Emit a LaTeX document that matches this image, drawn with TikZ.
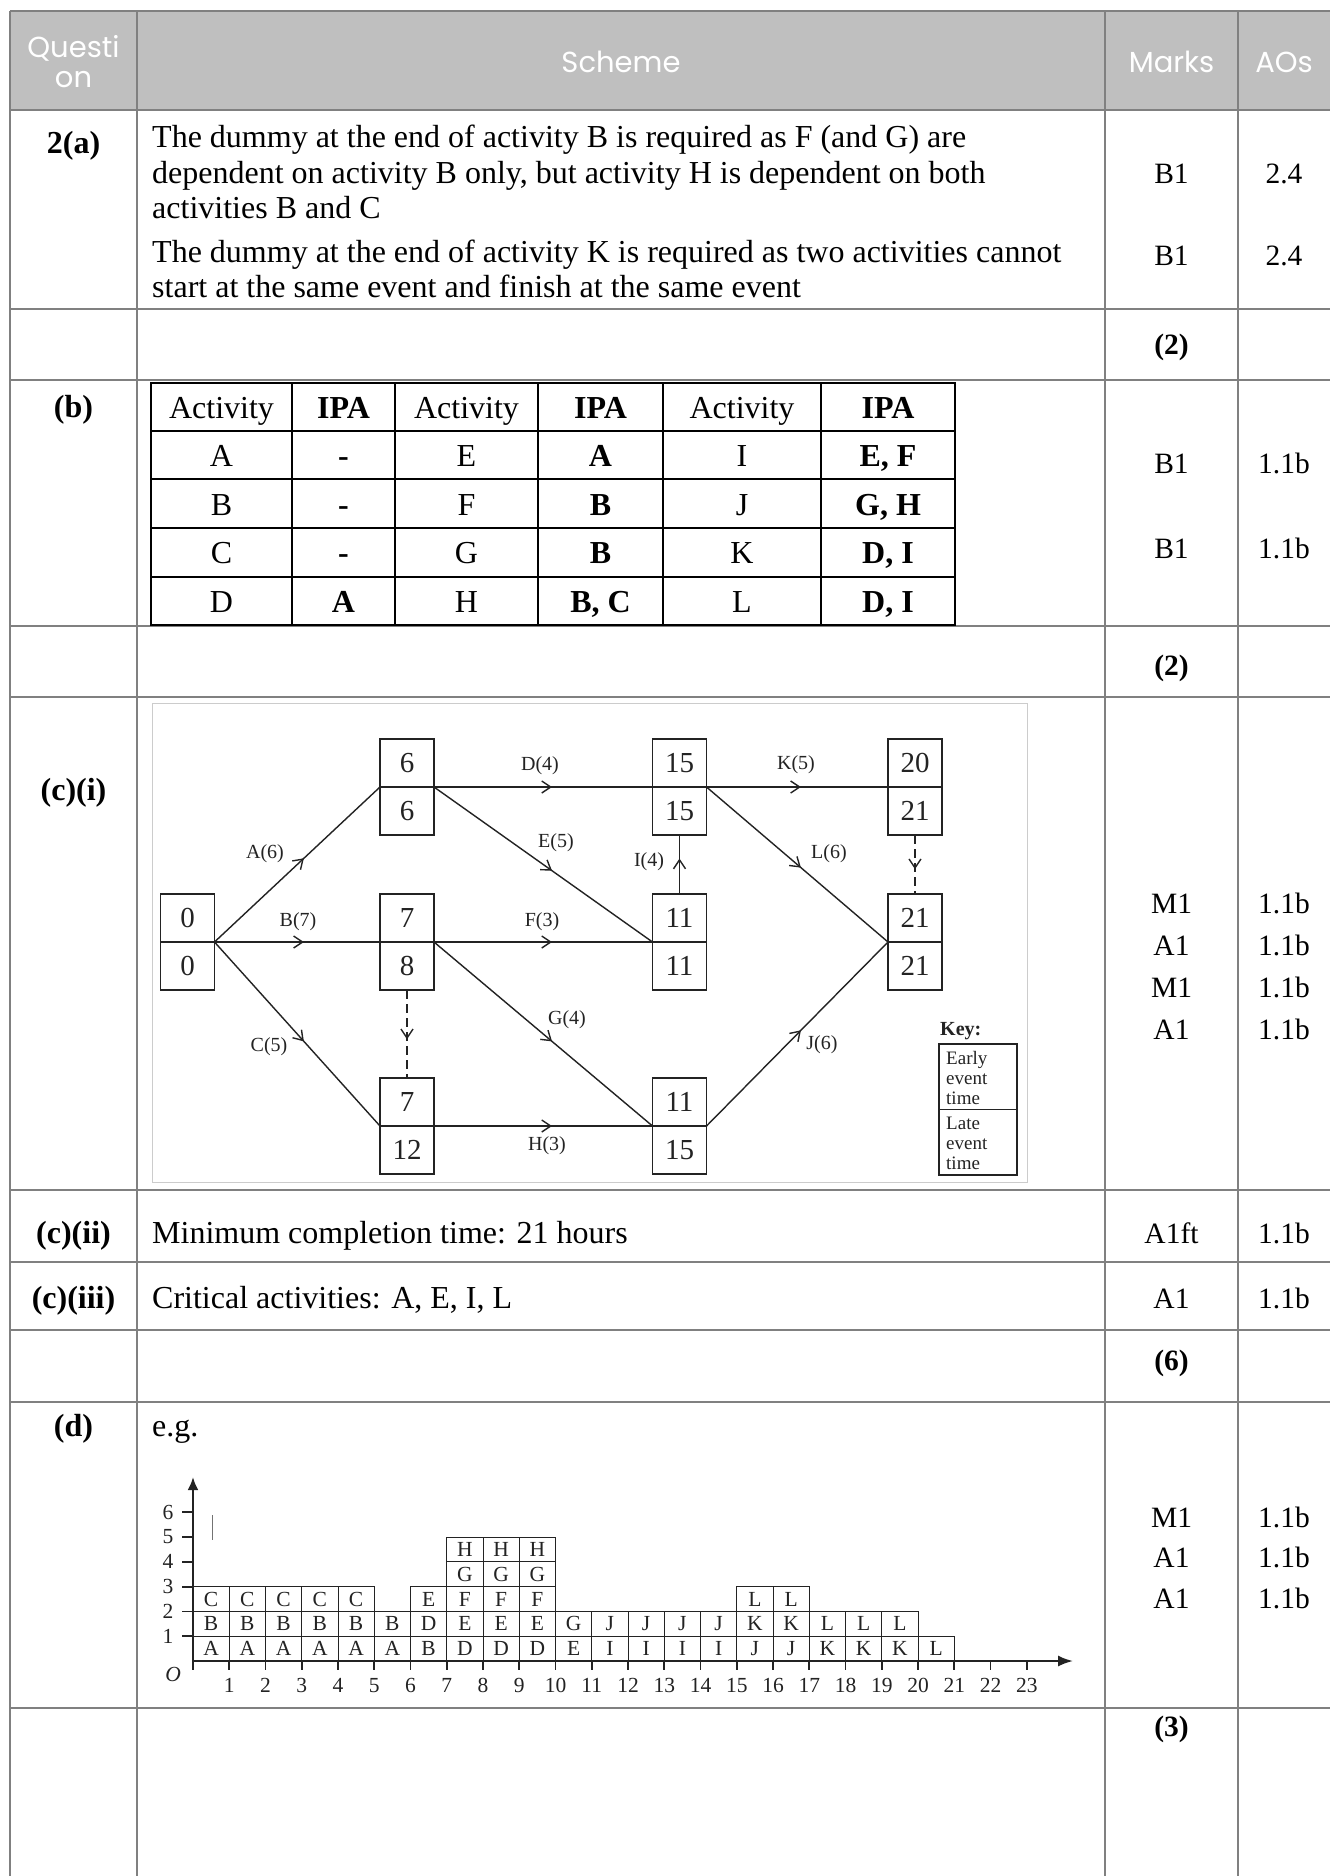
\documentclass[tikz,border=0pt]{standalone}
\usepackage{fontspec}
\setmainfont{Liberation Serif}
\newfontfamily\hdrfont{Poppins}
\usetikzlibrary{arrows.meta,decorations.markings}
\definecolor{hdrfill}{RGB}{191,191,191}
\definecolor{gridgrey}{RGB}{128,128,128}
\definecolor{ink}{RGB}{35,35,35}
\newcommand{\mainsz}{\fontsize{32}{35}\selectfont}
\newcommand{\marksz}{\fontsize{29.5}{33}\selectfont}
\newcommand{\hdrsz}{\hdrfont\fontsize{29}{30}\selectfont}
\newcommand{\netsz}{\fontsize{20}{22}\selectfont}
\newcommand{\numsz}{\fontsize{29}{30}\selectfont}
\newcommand{\keysz}{\fontsize{19}{20}\selectfont}
\newcommand{\histsz}{\fontsize{21.5}{22}\selectfont}
\newcommand{\itrow}[8]{%
  \node[itab]  (#1a) at (221.5,#2) {#3};
  \node[itabb] (#1b) at (343.5,#2) {#4};
  \node[itab]  (#1c) at (466.5,#2) {#5};
  \node[itabb] (#1d) at (600.5,#2) {#6};
  \node[itab]  (#1e) at (742,#2) {#7};
  \node[itabb] (#1f) at (888,#2) {#8};
}
\newcommand{\evnode}[5]{%
  \node[evbox] (#1) at (#2,#3) {};
  \draw[evline] (#1.west) -- (#1.east);
  \node[evnum] (#1-e) at (#2,#3-24) {#4};
  \node[evnum] (#1-l) at (#2,#3+24) {#5};
}
\tikzset{
  tline/.style={draw=gridgrey, line width=2.6pt},
  hdr/.style={font=\hdrsz, text=white, anchor=base, inner sep=0pt},
  qlab/.style={font=\mainsz\bfseries, anchor=base, inner sep=0pt},
  body/.style={font=\mainsz, anchor=base west, inner sep=0pt},
  mk/.style={font=\marksz, anchor=base, inner sep=0pt},
  mkb/.style={font=\marksz\bfseries, anchor=base, inner sep=0pt},
  itab/.style={font=\mainsz, anchor=base, inner sep=0pt},
  itabb/.style={font=\mainsz\bfseries, anchor=base, inner sep=0pt},
  itline/.style={draw=black, line width=2pt},
  evbox/.style={draw=ink, line width=1.8pt, minimum width=54pt, minimum height=96pt, inner sep=0pt, outer sep=0pt},
  evline/.style={draw=ink, line width=1.8pt},
  evnum/.style={font=\numsz, text=ink, inner sep=0pt},
  act/.style={draw=ink, line width=1.4pt},
  midarr/.style={postaction={decorate,decoration={markings,mark=at position #1 with {\arrow{Straight Barb[length=9pt,width=12pt,line width=1.4pt]}}}}},
  dummyline/.style={draw=ink, line width=2pt, dash pattern=on 9pt off 5pt},
  alab/.style={font=\netsz, text=ink, inner sep=0pt},
  hcell/.style={draw=ink, line width=1pt},
  hlet/.style={font=\histsz, text=ink, inner sep=0pt},
  axisline/.style={draw=ink, line width=2.4pt},
  tickline/.style={draw=ink, line width=1.8pt},
}
\begin{document}
\begin{tikzpicture}[x=1pt,y=-1pt]
\useasboundingbox (0,0) rectangle (1330,1876);
\fill[white] (0,0) rectangle (1330,1876);
% ---------- main table ----------
\fill[hdrfill] (10,11) rectangle (1330,110);
\foreach \yy in {11,110,309,380,626,697,1190,1262,1330,1402,1708}
  \draw[tline] (10,\yy) -- (1330,\yy);
\foreach \xx in {10,137,1105,1238}
  \draw[tline] (\xx,11) -- (\xx,1876);
% header
\node[hdr] (hq1) at (73.5,58) {Questi};
\node[hdr] (hq2) at (73.5,88) {on};
\node[hdr] (hs) at (621,73) {Scheme};
\node[hdr] (hm) at (1171.5,73) {Marks};
\node[hdr] (ha) at (1284,73) {AOs};
% 2(a)
\node[qlab] (q2a) at (73.5,153) {2(a)};
\node[body] (s2a1) at (152,147) {The dummy at the end of activity B is required as F (and G) are};
\node[body] (s2a2) at (152,183) {dependent on activity B only, but activity H is dependent on both};
\node[body] (s2a3) at (152,218) {activities B and C};
\node[body] (s2a4) at (152,262) {The dummy at the end of activity K is required as two activities cannot};
\node[body] (s2a5) at (152,297) {start at the same event and finish at the same event};
\node[mk] (m2a1) at (1171.5,183) {B1};
\node[mk] (o2a1) at (1284,183) {2.4};
\node[mk] (m2a2) at (1171.5,265) {B1};
\node[mk] (o2a2) at (1284,265) {2.4};
\node[mkb] (tot1) at (1171.5,354) {(2)};
% (b)
\node[qlab] (qb) at (73.5,417) {(b)};
\draw[itline] (151,383) rectangle (955,625);
\foreach \xx in {292,395,538,663,821}
  \draw[itline] (\xx,383) -- (\xx,625);
\foreach \yy in {431,479,528,577}
  \draw[itline] (151,\yy) -- (955,\yy);
\itrow{r0}{418}{Activity}{IPA}{Activity}{IPA}{Activity}{IPA}
\itrow{r1}{466}{A}{-}{E}{A}{I}{E, F}
\itrow{r2}{515}{B}{-}{F}{B}{J}{G, H}
\itrow{r3}{563}{C}{-}{G}{B}{K}{D, I}
\itrow{r4}{612}{D}{A}{H}{B, C}{L}{D, I}
\node[mk] (mb1) at (1171.5,473) {B1};
\node[mk] (ob1) at (1284,473) {1.1b};
\node[mk] (mb2) at (1171.5,558) {B1};
\node[mk] (ob2) at (1284,558) {1.1b};
\node[mkb] (tot2) at (1171.5,675) {(2)};
% (c)(i)
\node[qlab] (qc1) at (73.5,800) {(c)(i)};
\draw[black!20, line width=1pt] (152,703) rectangle (1027,1182);
\evnode{n0}{187.5}{942}{0}{0}
\evnode{nA}{407}{787}{6}{6}
\evnode{nB}{407}{942}{7}{8}
\evnode{nC}{407}{1126}{7}{12}
\evnode{nD}{679.5}{787}{15}{15}
\evnode{nE}{679.5}{942}{11}{11}
\evnode{nF}{679.5}{1126}{11}{15}
\evnode{nG}{915}{787}{20}{21}
\evnode{nH}{915}{942}{21}{21}
\draw[act,midarr=0.54] (n0.east) -- (nA.west);
\draw[act,midarr=0.54] (n0.east) -- (nB.west);
\draw[act,midarr=0.54] (n0.east) -- (nC.west);
\draw[act,midarr=0.54] (nA.east) -- (nD.west);
\draw[act,midarr=0.54] (nA.east) -- (nE.west);
\draw[act,midarr=0.54] (nB.east) -- (nE.west);
\draw[act,midarr=0.54] (nB.east) -- (nF.west);
\draw[act,midarr=0.54] (nC.east) -- (nF.west);
\draw[act,midarr=0.6] (nE.north) -- (nD.south);
\draw[act,midarr=0.52] (nD.east) -- (nG.west);
\draw[act,midarr=0.52] (nD.east) -- (nH.west);
\draw[act,midarr=0.52] (nF.east) -- (nH.west);
\draw[dummyline,midarr=0.56] (nB.south) -- (nC.north);
\draw[dummyline,midarr=0.58] (nG.south) -- (nH.north);
\node[alab] (lA) at (265,854) {A(6)};
\node[alab] (lB) at (298,922) {B(7)};
\node[alab] (lC) at (269,1047) {C(5)};
\node[alab] (lD) at (540,766) {D(4)};
\node[alab] (lE) at (556,843) {E(5)};
\node[alab] (lF) at (542,922) {F(3)};
\node[alab] (lG) at (567,1020) {G(4)};
\node[alab] (lH) at (547,1146) {H(3)};
\node[alab] (lI) at (649,862) {I(4)};
\node[alab] (lK) at (796,765) {K(5)};
\node[alab] (lL) at (829,854) {L(6)};
\node[alab] (lJ) at (822,1045) {J(6)};
\node[alab, font=\netsz\bfseries, anchor=west] (keyt) at (940,1031) {Key:};
\node[draw=ink, line width=1.6pt, minimum width=78pt, minimum height=131pt, inner sep=0pt] (keybox) at (978,1109.5) {};
\draw[evline, line width=1.6pt] (keybox.west) -- (keybox.east);
\node[font=\keysz, text=ink, align=left, anchor=west, inner sep=0pt] (key1) at (946,1078) {Early\\event\\time};
\node[font=\keysz, text=ink, align=left, anchor=west, inner sep=0pt] (key2) at (946,1143) {Late\\event\\time};
\node[mk] (mc1) at (1171.5,913) {M1};
\node[mk] (oc1) at (1284,913) {1.1b};
\node[mk] (mc2) at (1171.5,955) {A1};
\node[mk] (oc2) at (1284,955) {1.1b};
\node[mk] (mc3) at (1171.5,997) {M1};
\node[mk] (oc3) at (1284,997) {1.1b};
\node[mk] (mc4) at (1171.5,1039) {A1};
\node[mk] (oc4) at (1284,1039) {1.1b};
% (c)(ii), (c)(iii)
\node[qlab] (qc2) at (73.5,1243) {(c)(ii)};
\node[body] (sc2) at (152,1243) {Minimum completion time: 21 hours};
\node[mk] (mc5) at (1171.5,1243) {A1ft};
\node[mk] (oc5) at (1284,1243) {1.1b};
\node[qlab] (qc3) at (73.5,1308) {(c)(iii)};
\node[body] (sc3) at (152,1308) {Critical activities: A, E, I, L};
\node[mk] (mc6) at (1171.5,1308) {A1};
\node[mk] (oc6) at (1284,1308) {1.1b};
\node[mkb] (tot3) at (1171.5,1370) {(6)};
% (d)
\node[qlab] (qd) at (73.5,1436) {(d)};
\node[body] (sd) at (152,1436) {e.g.};
\node[mk] (md1) at (1171.5,1527) {M1};
\node[mk] (od1) at (1284,1527) {1.1b};
\node[mk] (md2) at (1171.5,1567) {A1};
\node[mk] (od2) at (1284,1567) {1.1b};
\node[mk] (md3) at (1171.5,1608) {A1};
\node[mk] (od3) at (1284,1608) {1.1b};
\node[mkb] (tot4) at (1171.5,1736) {(3)};
% histogram
\begin{scope}[shift={(193,1661)}, x=36.25pt, y=24.8pt]
  \foreach \l [count=\c from 0] in {A,A,A,A,A,A,B,D,D,D,E,I,I,I,I,J,J,K,K,K,L} {
    \draw[hcell] (\c,0) rectangle ++(1,1);
    \node[hlet] (ha-\c) at (\c+0.5,0.5) {\l};
  }
  \foreach \l [count=\c from 0] in {B,B,B,B,B,B,D,E,E,E,G,J,J,J,J,K,K,L,L,L} {
    \draw[hcell] (\c,1) rectangle ++(1,1);
    \node[hlet] (hb-\c) at (\c+0.5,1.5) {\l};
  }
  \foreach \c/\l in {0/C,1/C,2/C,3/C,4/C,6/E,7/F,8/F,9/F,15/L,16/L} {
    \draw[hcell] (\c,2) rectangle ++(1,1);
    \node[hlet] (hc-\c) at (\c+0.5,2.5) {\l};
  }
  \foreach \c in {7,8,9} {
    \draw[hcell] (\c,3) rectangle ++(1,1);
    \node[hlet] (hd-\c) at (\c+0.5,3.5) {G};
    \draw[hcell] (\c,4) rectangle ++(1,1);
    \node[hlet] (he-\c) at (\c+0.5,4.5) {H};
  }
  \draw[axisline, -{Latex[length=15pt,width=11pt]}] (0,0) -- (24.28,0);
  \draw[axisline, -{Latex[length=13pt,width=11pt]}] (0,-0.36) -- (0,7.42);
  \foreach \i in {1,...,23} {
    \draw[tickline] (\i,0) -- (\i,-0.36);
    \node[hlet] (hx-\i) at (\i,-0.97) {\i};
  }
  \foreach \j in {1,...,6} {
    \draw[tickline] (0,\j) -- (-0.3,\j);
    \node[hlet] (hy-\j) at (-0.69,\j) {\j};
  }
  \node[hlet] (horig) at (-0.55,-0.56) {\textit{O}};
  \draw[black!55, line width=1pt] (0.55,4.9) -- (0.55,5.9);
\end{scope}
\end{tikzpicture}
\end{document}
